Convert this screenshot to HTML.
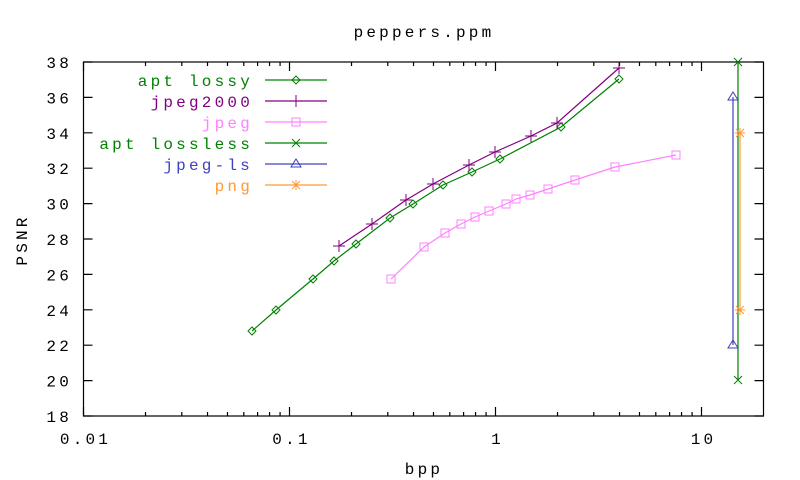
<!DOCTYPE html>
<html><head><style>body{margin:0;background:#fff}svg{display:block}text{font-family:"Liberation Mono","DejaVu Sans Mono",monospace;font-size:16px;letter-spacing:3.2px}</style></head><body>
<svg width="800" height="480" xmlns="http://www.w3.org/2000/svg" id="s">
<rect width="800" height="480" fill="#fff"/>
<g id="ax" stroke="#000" stroke-width="1.2" fill="none"></g>
<g id="lb" fill="#000"></g>
<text x="424" y="37" text-anchor="middle">peppers.ppm</text>
<text x="424" y="474" text-anchor="middle">bpp</text>
<text x="27" y="240" text-anchor="middle" transform="rotate(-90 27 240)">PSNR</text>
<g id="lg"></g>
<g id="sr"></g>
</svg>
<script>
const L=83.5,R=763.5,T=62,B=416;
const X=v=>L+206*Math.log10(v/0.01), Y=v=>B-(v-18)*(B-T)/20;
let ax='',lb='';
ax+=`<rect x="${L}" y="${T}" width="${R-L}" height="${B-T}"/>`;
for(let v=18;v<=38;v+=2){let y=Y(v);ax+=`<path d="M${L} ${y}h9M${R} ${y}h-9"/>`;lb+=`<text x="72" y="${y+6}" text-anchor="end">${v}</text>`;}
[0.01,0.1,1,10].forEach((d,i)=>{let x=X(d);ax+=`<path d="M${x} ${B}v-9M${x} ${T}v9"/>`;lb+=`<text x="${x+2}" y="444" text-anchor="middle">${['0.01','0.1','1','10'][i]}</text>`;
for(let k=2;k<10;k++){let xx=X(d*k);if(xx<R)ax+=`<path d="M${xx} ${B}v-4M${xx} ${T}v4"/>`;}});
document.getElementById('ax').innerHTML=ax;document.getElementById('lb').innerHTML=lb;
const mk={
d:(x,y,c)=>`<path d="M${x-4} ${y}L${x} ${y-4}L${x+4} ${y}L${x} ${y+4}Z" fill="none" stroke="${c}"/>`,
p:(x,y,c)=>`<path d="M${x-6} ${y}h12M${x} ${y-6}v12" stroke="${c}"/>`,
s:(x,y,c)=>`<rect x="${x-4}" y="${y-4}" width="8" height="8" fill="none" stroke="${c}"/>`,
x:(x,y,c)=>`<path d="M${x-4} ${y-4}l8 8M${x-4} ${y+4}l8 -8" stroke="${c}"/>`,
t:(x,y,c)=>`<path d="M${x-5} ${y+3}h10L${x} ${y-5}Z" fill="none" stroke="${c}"/>`,
a:(x,y,c)=>`<path d="M${x-5} ${y}h10M${x} ${y-5}v10M${x-4} ${y-4}l8 8M${x-4} ${y+4}l8 -8" stroke="${c}"/>`};
const S=[
['apt lossy','#008000','d',[[252,331],[276,310],[313,279],[334,261],[356,244],[390,218],[413,204],[443,185],[472,172],[500,159],[561,127],[619,79]]],
['jpeg2000','#800080','p',[[339,246],[372,224],[406,200],[433,184],[469,165],[495,152],[531,136],[557,123],[619,68]]],
['jpeg','#ff80ff','s',[[391,279],[424,247],[445,233],[461,224],[475,217],[489,211],[506,204],[516,199],[530,195],[548,189],[575,180],[615,167],[676,155]]],
['apt lossless','#008000','x',[[738,62],[738,380]]],
['jpeg-ls','#4040c0','t',[[733,97],[733,345]]],
['png','#ff9933','a',[[740,133],[740,310]]]];
let g='',lg='';
S.forEach((s,i)=>{let [n,c,m,p]=s;g+=`<polyline points="${p.map(q=>q.join(',')).join(' ')}" fill="none" stroke="${c}" stroke-width="1.2"/>`;p.forEach(q=>g+=mk[m](q[0],q[1],c));
let y=80+i*21;lg+=`<text x="253" y="${y+6}" text-anchor="end" fill="${c}">${n}</text><path d="M265 ${y}h62" stroke="${c}" stroke-width="1.2"/>`+mk[m](296,y,c);});
document.getElementById('sr').innerHTML=g;document.getElementById('lg').innerHTML=lg;
</script>
</body></html>
